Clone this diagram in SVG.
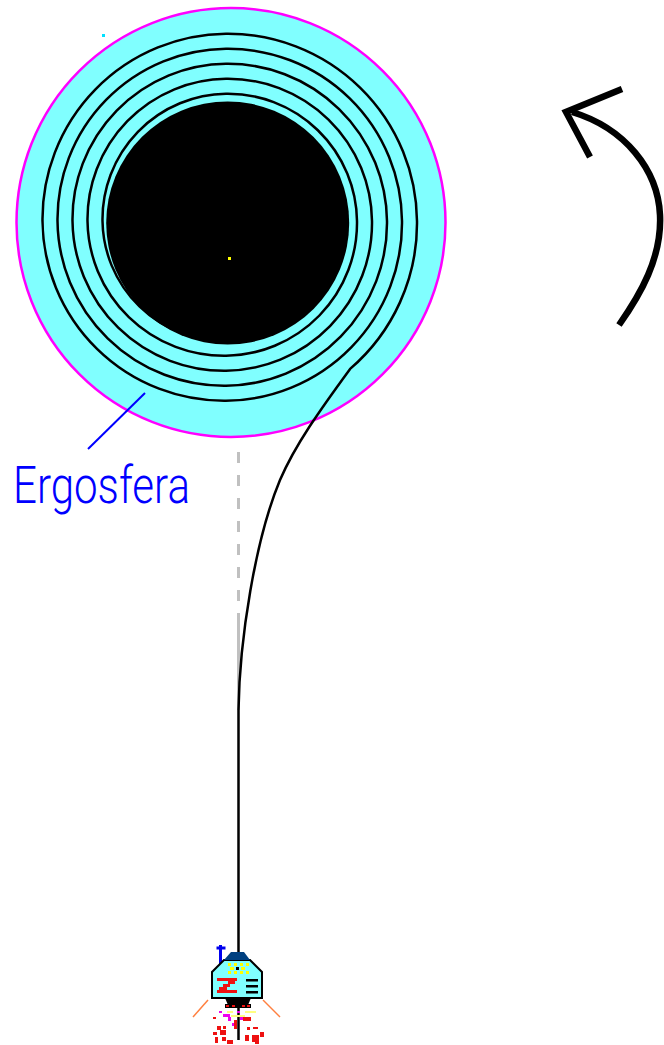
<svg xmlns="http://www.w3.org/2000/svg" width="664" height="1045" viewBox="0 0 664 1045">
  <style>
    .orbit { fill: none; stroke: #000; stroke-width: 2.5; stroke-linejoin: round; }
    .ref { fill: none; stroke: #c0c0c0; stroke-width: 3; }
    .label { font-family: "Roboto", "Liberation Sans", sans-serif; font-weight: 300; fill: #0000ff; }
  </style>
  <rect width="664" height="1045" fill="#ffffff"/>

  <!-- ergosphere -->
  <g id="ergosphere">
    <circle cx="231" cy="222.5" r="214.5" fill="#80ffff" stroke="#ff00ff" stroke-width="2.5"/>
    <rect x="102" y="34" width="3" height="3" fill="#00e0ff"/>
  </g>

  <!-- infall trajectory and radial reference line -->
  <g id="connectors">
    <path class="ref" d="M238.5 452 V623" stroke-dasharray="11 12"/>
    <path class="ref" d="M238.5 623 V710"/>
    <path class="orbit" d="M238.5 1040 V710 C239.5 640 255 540 280 480 C295 445 320 410 350.1 368.9
      A192 192 0 0 0 417 221
      A189.1 189.1 0 0 0 226 33.75
      A185.4 185.4 0 0 0 42.5 221
      A181.6 181.6 0 0 0 226 400.75
      A177.9 177.9 0 0 0 402 221
      A174.1 174.1 0 0 0 226 48.75
      A170.4 170.4 0 0 0 57.5 221
      A166.6 166.6 0 0 0 226 385.75
      A162.9 162.9 0 0 0 387 221
      A159.1 159.1 0 0 0 226 63.75
      A155.4 155.4 0 0 0 72.5 221
      A151.6 151.6 0 0 0 226 370.75
      A147.9 147.9 0 0 0 372 221
      A144.1 144.1 0 0 0 226 78.75
      A140.4 140.4 0 0 0 87.5 221
      A136.6 136.6 0 0 0 226 355.75
      A132.9 132.9 0 0 0 357 221
      A129.1 129.1 0 0 0 226 93.75
      A125.4 125.4 0 0 0 102.5 221
      A121.6 121.6 0 0 0 226 340.75"/>
    <line x1="145" y1="393" x2="88" y2="449" stroke="#0000ff" stroke-width="2"/>
  </g>

  <!-- event horizon -->
  <g id="black-hole">
    <circle cx="227.7" cy="223" r="121.5" fill="#000"/>
    <rect x="228" y="257" width="3" height="3" fill="#ffff00"/>
  </g>

  <!-- label -->
  <g id="label-ergosfera">
    <text class="label" x="13" y="503" font-size="52" textLength="177" lengthAdjust="spacingAndGlyphs">Ergosfera</text>
  </g>

  <!-- rotation direction -->
  <g id="rotation-arrow" fill="none" stroke="#000" stroke-width="6.5">
    <path d="M619 325 C640 295 662 258 660 215 C658 170 625 128 572 112"/>
    <path d="M622 89 L566 112 L590 157" stroke-linejoin="miter"/>
  </g>

  <!-- rocket -->
  <g id="rocket">
    <!-- exhaust plume -->
    <g stroke="#ff8040" stroke-width="1.5">
      <line x1="208" y1="1000" x2="193" y2="1017"/>
      <line x1="263" y1="1000" x2="280" y2="1017"/>
    </g>
    <g fill="#ee00ee">
      <rect x="219" y="1011" width="3" height="2"/>
      <rect x="237" y="1011" width="3" height="2"/>
      <rect x="223" y="1014" width="7" height="3"/>
      <rect x="228" y="1017" width="3" height="4"/>
      <rect x="240" y="1017" width="3" height="3"/>
      <rect x="232" y="1023" width="3" height="3"/>
    </g>
    <g fill="#ffff80">
      <rect x="227" y="1011" width="6" height="2"/>
      <rect x="245" y="1011" width="11" height="2"/>
      <rect x="231" y="1015" width="14" height="2"/>
    </g>
    <g fill="#ee1111">
      <rect x="243" y="1017" width="8" height="4"/>
      <rect x="213" y="1017" width="3" height="2"/>
      <rect x="217" y="1026" width="4" height="4"/>
      <rect x="223" y="1026" width="3" height="3"/>
      <rect x="234" y="1020" width="3" height="9"/>
      <rect x="247" y="1027" width="3" height="3"/>
      <rect x="253" y="1027" width="5" height="2"/>
      <rect x="220" y="1030" width="6" height="5"/>
      <rect x="213" y="1032" width="4" height="3"/>
      <rect x="215" y="1037" width="3" height="6"/>
      <rect x="222" y="1037" width="4" height="4"/>
      <rect x="227" y="1040" width="6" height="4"/>
      <rect x="245" y="1035" width="4" height="6"/>
      <rect x="252" y="1035" width="7" height="7"/>
      <rect x="260" y="1032" width="4" height="5"/>
      <rect x="255" y="1040" width="4" height="4"/>
    </g>
    <!-- antenna -->
    <rect x="219" y="945" width="3" height="26" fill="#0000ee"/>
    <rect x="216.5" y="946.5" width="9" height="3" fill="#0000ee"/>
    <!-- engine -->
    <polygon points="225,998 251,998 248,1005 228,1005" fill="#000"/>
    <rect x="225" y="1004" width="26" height="4" fill="#000"/>
    <g fill="#ee1111">
      <rect x="226" y="1005" width="3" height="2"/>
      <rect x="232" y="1005" width="3" height="2"/>
      <rect x="242" y="1005" width="3" height="2"/>
      <rect x="247" y="1005" width="3" height="2"/>
    </g>
    <!-- hull -->
    <polygon points="224,960 250,960 262,972 262,998 212,998 212,972" fill="#80ffff" stroke="#000" stroke-width="2"/>
    <polygon points="231,952 244,952 250,960 224,960" fill="#004080"/>
    <!-- porthole -->
    <g fill="#ffff00">
      <rect x="228" y="963" width="3" height="3"/>
      <rect x="234" y="963" width="3" height="3"/>
      <rect x="240" y="963" width="3" height="3"/>
      <rect x="246" y="963" width="3" height="3"/>
      <rect x="230" y="967" width="4" height="3"/>
      <rect x="241" y="967" width="4" height="3"/>
      <rect x="228" y="971" width="3" height="3"/>
      <rect x="234" y="971" width="3" height="3"/>
      <rect x="240" y="971" width="3" height="3"/>
      <rect x="246" y="971" width="3" height="3"/>
    </g>
    <rect x="236" y="967" width="3" height="3" fill="#000"/>
    <!-- Z emblem -->
    <g fill="#ee1111">
      <rect x="217" y="978" width="20" height="3"/>
      <rect x="228" y="981" width="7" height="3"/>
      <rect x="223" y="984" width="7" height="3"/>
      <rect x="219" y="987" width="8" height="3"/>
      <rect x="217" y="990" width="20" height="3"/>
    </g>
    <g fill="#000">
      <rect x="246" y="979" width="12" height="2.5"/>
      <rect x="246" y="985" width="12" height="2.5"/>
      <rect x="246" y="991" width="12" height="2.5"/>
    </g>
  </g>
</svg>
